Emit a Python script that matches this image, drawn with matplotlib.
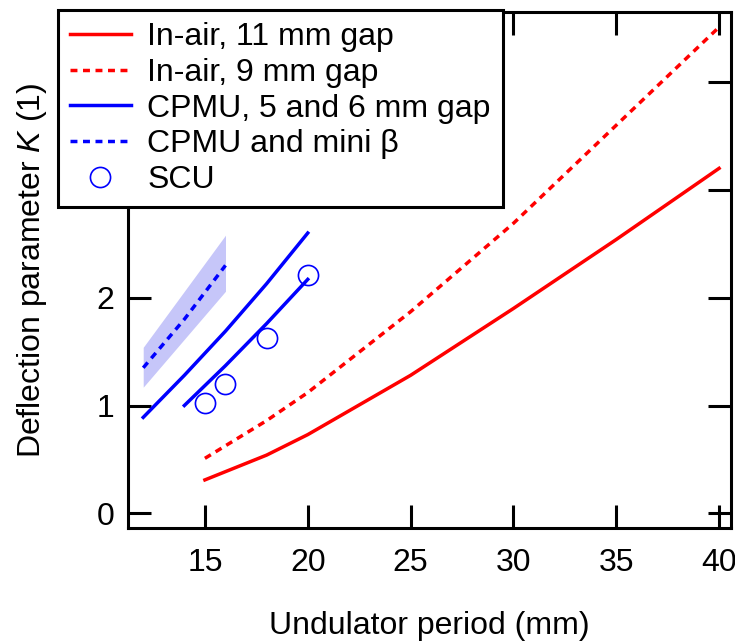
import matplotlib
matplotlib.use("Agg")
import matplotlib.pyplot as plt

plt.rcParams['font.family'] = ['Liberation Sans', 'DejaVu Sans']
plt.rcParams['mathtext.fontset'] = 'custom'
plt.rcParams['mathtext.it'] = 'Liberation Sans:italic'
plt.rcParams['mathtext.rm'] = 'Liberation Sans'

# ---- data ----
inair11_x = [15, 18, 20, 25, 30, 35, 40]
inair11_k = [0.31, 0.54, 0.73, 1.28, 1.90, 2.54, 3.20]

inair9_x = [15, 18, 20, 25, 30, 35, 40]
inair9_k = [0.51, 0.86, 1.12, 1.87, 2.69, 3.60, 4.51]

cpmu5_x = [12, 14, 16, 18, 20]
cpmu5_k = [0.89, 1.28, 1.69, 2.13, 2.60]

cpmu6_x = [14, 16, 18, 20]
cpmu6_k = [1.00, 1.37, 1.76, 2.17]

minib_x = [12, 14, 16]
minib_k = [1.35, 1.80, 2.30]
band_x = [12, 16]
band_lo = [1.17, 2.06]
band_hi = [1.54, 2.58]

scu_x = [15, 16, 18, 20]
scu_k = [1.02, 1.20, 1.63, 2.21]

xticks = [15, 20, 25, 30, 35, 40]
yticks = [0, 1, 2, 3, 4]

RED = '#ff0000'
BLUE = '#0000ff'
LW = 2.5
DASH = (2.0, 1.6)
FS = 23

fig = plt.figure(figsize=(7.35, 6.43), dpi=100)
ax = fig.add_axes([128/735, 1 - 528.3/643, (731-128)/735, (528.3-11.5)/643])

ax.fill_between(band_x, band_lo, band_hi, color='#c6c6f9', lw=0, zorder=1)
ax.plot(inair11_x, inair11_k, color=RED, lw=LW, label='In-air, 11 mm gap')
ax.plot(inair9_x, inair9_k, color=RED, lw=LW, dashes=DASH, label='In-air, 9 mm gap')
ax.plot(cpmu5_x, cpmu5_k, color=BLUE, lw=LW, label='CPMU, 5 and 6 mm gap')
ax.plot(cpmu6_x, cpmu6_k, color=BLUE, lw=LW)
ax.plot(minib_x, minib_k, color=BLUE, lw=LW, dashes=DASH, label='CPMU and mini β')
ax.plot(scu_x, scu_k, 'o', ms=14.5, mfc='none', mec=BLUE, mew=1.2, label='SCU')

ax.set_xlim(11.26, 40.58)
ax.set_ylim(-0.139, 4.655)
ax.set_xticks(xticks)
ax.set_yticks(yticks)
ax.tick_params(direction='in', length=16.5, width=2.2, top=True, right=True,
               labelsize=FS, colors='black')
ax.tick_params(axis='x', pad=14)
ax.tick_params(axis='y', pad=10)
for s in ax.spines.values():
    s.set_linewidth(2.2)

ax.set_xlabel('Undulator period (mm)', fontsize=FS, labelpad=24)
ax.set_ylabel('Deflection parameter $K$ (1)', fontsize=FS, labelpad=34)

leg = ax.legend(loc='upper left', bbox_to_anchor=(58/735, 1 - 10/643),
                bbox_transform=fig.transFigure, borderaxespad=0,
                fontsize=FS, frameon=True, fancybox=False, framealpha=1,
                edgecolor='black', handlelength=1.88, handletextpad=0.53,
                borderpad=0.39, labelspacing=0.175, numpoints=1)
leg.get_frame().set_linewidth(2.2)
leg.set_zorder(10)

fig.savefig('out.png', dpi=100)
